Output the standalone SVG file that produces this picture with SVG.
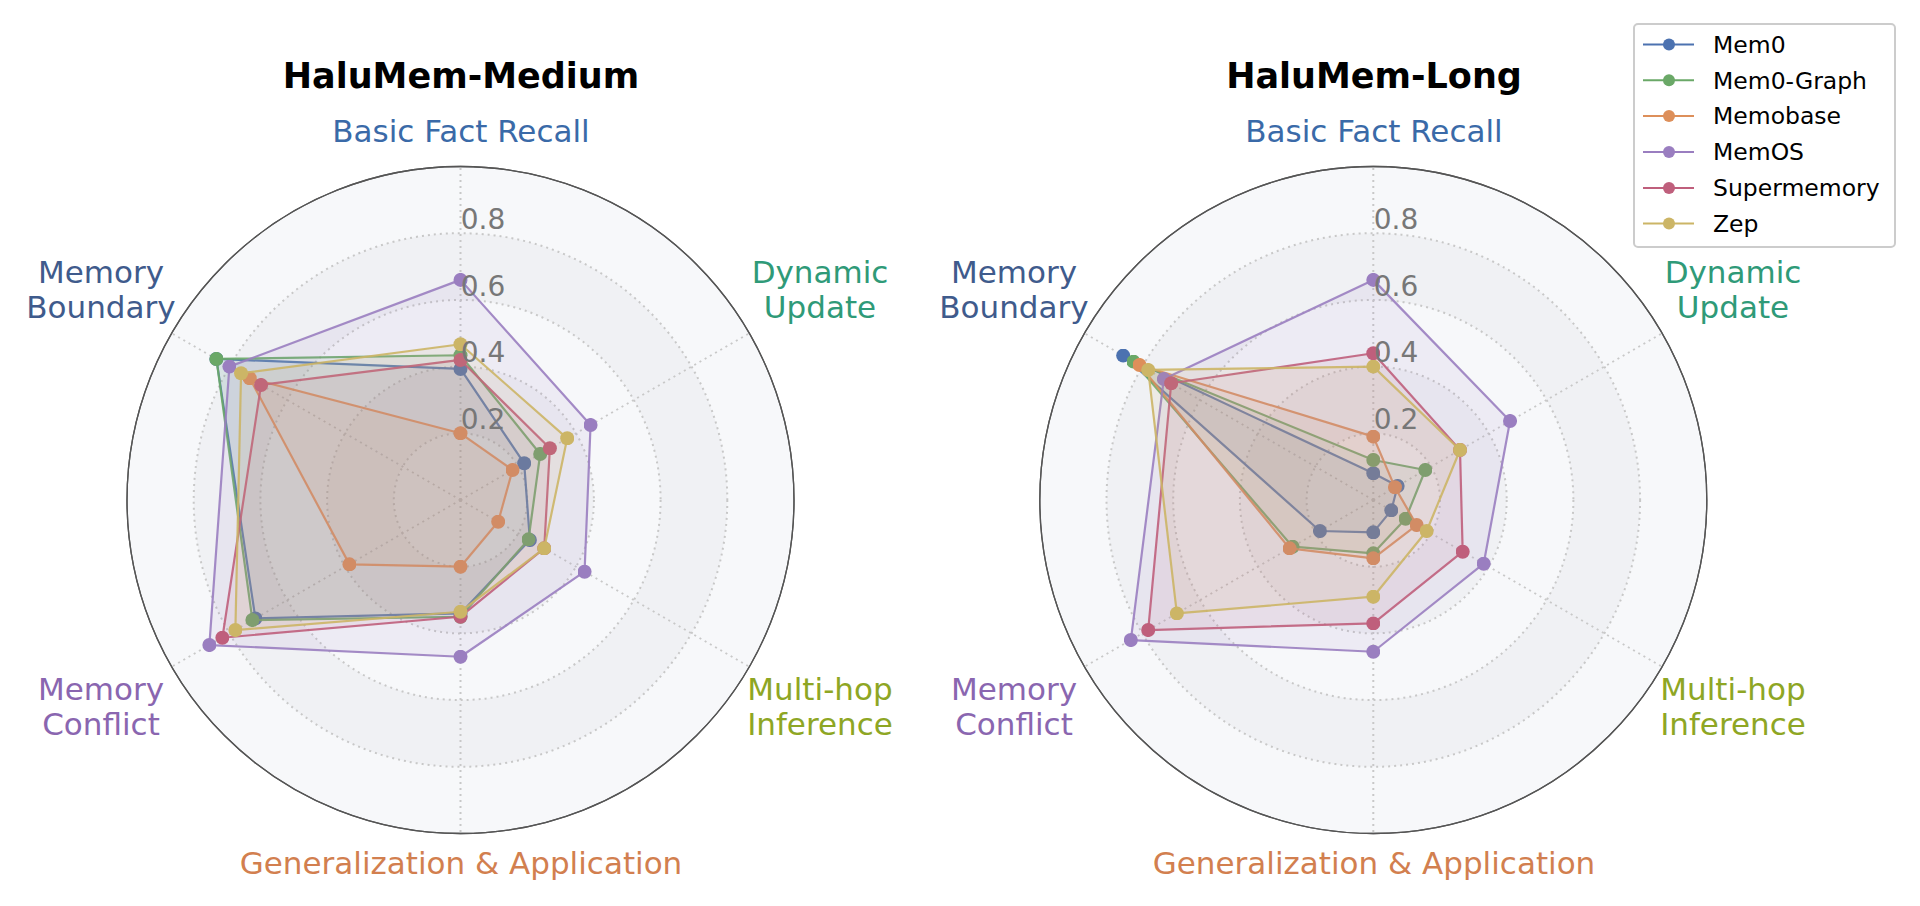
<svg xmlns="http://www.w3.org/2000/svg" width="1920" height="906" viewBox="0 0 1920 906">
<style>
text{font-family:"DejaVu Sans","Liberation Sans",sans-serif}
.title{font-size:35px;font-weight:bold;fill:#000;text-anchor:middle}
.cat{font-size:31px;text-anchor:middle}
.tick{font-size:28px;fill:#777;text-anchor:middle}
.ring{fill:none;stroke:#c8c8c8;stroke-width:2;stroke-dasharray:2 4}
.band{fill:none;stroke:#f0f1f4;stroke-width:66.7}
.outer{fill:#f7f8fa;stroke:#555;stroke-width:1.3}
.series{stroke-width:2.2;vector-effect:non-scaling-stroke;stroke-linejoin:round;fill-opacity:0.1;stroke-opacity:0.9}
.leg{font-size:23.5px;fill:#000}
</style>
<defs>
<marker id="m0" viewBox="-1 -1 2 2" markerWidth="0.042" markerHeight="0.042" markerUnits="userSpaceOnUse"><circle r="1" fill="#4c72b0"/></marker>
<marker id="m1" viewBox="-1 -1 2 2" markerWidth="0.042" markerHeight="0.042" markerUnits="userSpaceOnUse"><circle r="1" fill="#6aa867"/></marker>
<marker id="m2" viewBox="-1 -1 2 2" markerWidth="0.042" markerHeight="0.042" markerUnits="userSpaceOnUse"><circle r="1" fill="#dd8f5a"/></marker>
<marker id="m3" viewBox="-1 -1 2 2" markerWidth="0.042" markerHeight="0.042" markerUnits="userSpaceOnUse"><circle r="1" fill="#9a7ec0"/></marker>
<marker id="m4" viewBox="-1 -1 2 2" markerWidth="0.042" markerHeight="0.042" markerUnits="userSpaceOnUse"><circle r="1" fill="#bf5f7c"/></marker>
<marker id="m5" viewBox="-1 -1 2 2" markerWidth="0.042" markerHeight="0.042" markerUnits="userSpaceOnUse"><circle r="1" fill="#ccb566"/></marker>
<g id="grid">
<circle class="outer" r="333.5"/>
<circle class="band" r="233.45"/>
<circle class="band" r="100"/>
<circle class="ring" r="66.7"/><circle class="ring" r="133.4"/><circle class="ring" r="200.1"/><circle class="ring" r="266.8"/>
<path class="ring" d="M0 0V-333.5M0 0L288.8 -166.75M0 0L288.8 166.75M0 0V333.5M0 0L-288.8 166.75M0 0L-288.8 -166.75"/>
<circle r="333.5" fill="none" stroke="#555" stroke-width="1.3"/>
</g>
</defs>

<g id="chart-medium">
<use href="#grid" x="460.5" y="500"/>
<g id="series-medium" transform="translate(460.5 500) scale(333.5)">
<polygon class="series" stroke="#4c72b0" fill="#4c72b0" marker-start="url(#m0)" marker-mid="url(#m0)" points="0,-0.393 0.191,-0.11 0.208,0.12 0,0.34 -0.615,0.355 -0.732,-0.423"/>
<polygon class="series" stroke="#6aa867" fill="#6aa867" marker-start="url(#m1)" marker-mid="url(#m1)" points="0,-0.434 0.239,-0.138 0.204,0.118 0,0.35 -0.624,0.36 -0.732,-0.423"/>
<polygon class="series" stroke="#dd8f5a" fill="#dd8f5a" marker-start="url(#m2)" marker-mid="url(#m2)" points="0,-0.2 0.156,-0.09 0.113,0.065 0,0.2 -0.333,0.193 -0.632,-0.365"/>
<polygon class="series" stroke="#9a7ec0" fill="#9a7ec0" marker-start="url(#m3)" marker-mid="url(#m3)" points="0,-0.66 0.39,-0.225 0.372,0.215 0,0.47 -0.753,0.435 -0.693,-0.4"/>
<polygon class="series" stroke="#bf5f7c" fill="#bf5f7c" marker-start="url(#m4)" marker-mid="url(#m4)" points="0,-0.42 0.268,-0.155 0.251,0.145 0,0.35 -0.714,0.413 -0.598,-0.345"/>
<polygon class="series" stroke="#ccb566" fill="#ccb566" marker-start="url(#m5)" marker-mid="url(#m5)" points="0,-0.467 0.32,-0.185 0.251,0.145 0,0.335 -0.675,0.39 -0.658,-0.38"/>
</g>
<text class="tick" x="483" y="229">0.8</text>
<text class="tick" x="483" y="296">0.6</text>
<text class="tick" x="483" y="362">0.4</text>
<text class="tick" x="483" y="429">0.2</text>
<text class="title" x="461" y="88">HaluMem-Medium</text>
<text class="cat" x="461" y="142" fill="#3a6aa8">Basic Fact Recall</text>
<text class="cat" x="820" y="283" fill="#2f9a78">Dynamic</text><text class="cat" x="820" y="318" fill="#2f9a78">Update</text>
<text class="cat" x="820" y="700" fill="#8ea624">Multi-hop</text><text class="cat" x="820" y="735" fill="#8ea624">Inference</text>
<text class="cat" x="461" y="874" fill="#d27f4f">Generalization &amp; Application</text>
<text class="cat" x="101" y="700" fill="#8a66b0">Memory</text><text class="cat" x="101" y="735" fill="#8a66b0">Conflict</text>
<text class="cat" x="101" y="283" fill="#3f5b8c">Memory</text><text class="cat" x="101" y="318" fill="#3f5b8c">Boundary</text>
</g>

<g id="chart-long">
<use href="#grid" x="1373.3" y="500"/>
<g id="series-long" transform="translate(1373.3 500) scale(333.5)">
<polygon class="series" stroke="#4c72b0" fill="#4c72b0" marker-start="url(#m0)" marker-mid="url(#m0)" points="0,-0.08 0.073,-0.042 0.054,0.031 0,0.097 -0.16,0.093 -0.75,-0.433"/>
<polygon class="series" stroke="#6aa867" fill="#6aa867" marker-start="url(#m1)" marker-mid="url(#m1)" points="0,-0.12 0.156,-0.09 0.097,0.056 0,0.16 -0.242,0.14 -0.719,-0.415"/>
<polygon class="series" stroke="#dd8f5a" fill="#dd8f5a" marker-start="url(#m2)" marker-mid="url(#m2)" points="0,-0.19 0.065,-0.038 0.13,0.075 0,0.175 -0.251,0.145 -0.701,-0.405"/>
<polygon class="series" stroke="#9a7ec0" fill="#9a7ec0" marker-start="url(#m3)" marker-mid="url(#m3)" points="0,-0.66 0.41,-0.237 0.331,0.191 0,0.455 -0.727,0.42 -0.628,-0.363"/>
<polygon class="series" stroke="#bf5f7c" fill="#bf5f7c" marker-start="url(#m4)" marker-mid="url(#m4)" points="0,-0.44 0.26,-0.15 0.268,0.155 0,0.37 -0.675,0.39 -0.606,-0.35"/>
<polygon class="series" stroke="#ccb566" fill="#ccb566" marker-start="url(#m5)" marker-mid="url(#m5)" points="0,-0.4 0.26,-0.15 0.16,0.093 0,0.29 -0.589,0.34 -0.675,-0.39"/>
</g>
<text class="tick" x="1396" y="229">0.8</text>
<text class="tick" x="1396" y="296">0.6</text>
<text class="tick" x="1396" y="362">0.4</text>
<text class="tick" x="1396" y="429">0.2</text>
<text class="title" x="1374" y="88">HaluMem-Long</text>
<text class="cat" x="1374" y="142" fill="#3a6aa8">Basic Fact Recall</text>
<text class="cat" x="1733" y="283" fill="#2f9a78">Dynamic</text><text class="cat" x="1733" y="318" fill="#2f9a78">Update</text>
<text class="cat" x="1733" y="700" fill="#8ea624">Multi-hop</text><text class="cat" x="1733" y="735" fill="#8ea624">Inference</text>
<text class="cat" x="1374" y="874" fill="#d27f4f">Generalization &amp; Application</text>
<text class="cat" x="1014" y="700" fill="#8a66b0">Memory</text><text class="cat" x="1014" y="735" fill="#8a66b0">Conflict</text>
<text class="cat" x="1014" y="283" fill="#3f5b8c">Memory</text><text class="cat" x="1014" y="318" fill="#3f5b8c">Boundary</text>
</g>

<g id="legend">
<rect x="1634" y="24" width="261" height="223" rx="4" fill="#fff" stroke="#ccc" stroke-width="2"/>
<g stroke-width="2">
<line x1="1643" y1="44.5" x2="1694" y2="44.5" stroke="#4c72b0"/><circle cx="1669" cy="44.5" r="6" fill="#4c72b0"/>
<line x1="1643" y1="80.3" x2="1694" y2="80.3" stroke="#6aa867"/><circle cx="1669" cy="80.3" r="6" fill="#6aa867"/>
<line x1="1643" y1="116" x2="1694" y2="116" stroke="#dd8f5a"/><circle cx="1669" cy="116" r="6" fill="#dd8f5a"/>
<line x1="1643" y1="152" x2="1694" y2="152" stroke="#9a7ec0"/><circle cx="1669" cy="152" r="6" fill="#9a7ec0"/>
<line x1="1643" y1="188" x2="1694" y2="188" stroke="#bf5f7c"/><circle cx="1669" cy="188" r="6" fill="#bf5f7c"/>
<line x1="1643" y1="223.6" x2="1694" y2="223.6" stroke="#ccb566"/><circle cx="1669" cy="223.6" r="6" fill="#ccb566"/>
</g>
<text class="leg" x="1713" y="53">Mem0</text>
<text class="leg" x="1713" y="89">Mem0-Graph</text>
<text class="leg" x="1713" y="124">Memobase</text>
<text class="leg" x="1713" y="160">MemOS</text>
<text class="leg" x="1713" y="196">Supermemory</text>
<text class="leg" x="1713" y="232">Zep</text>
</g>
</svg>
